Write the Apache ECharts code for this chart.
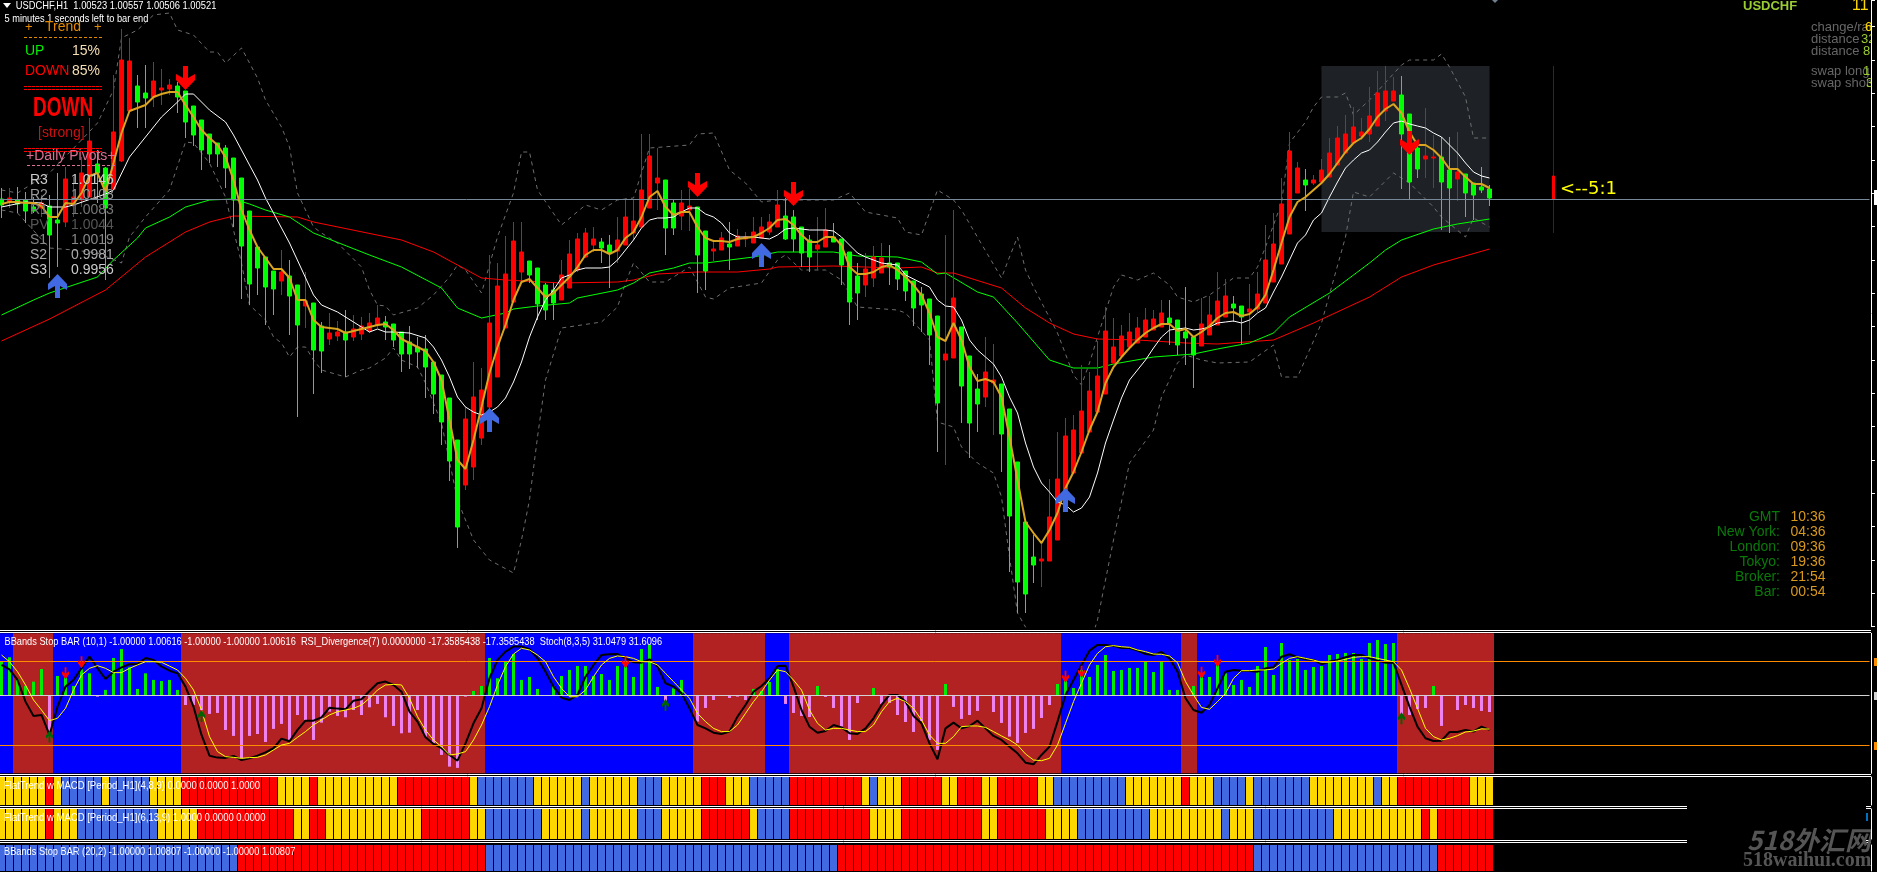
<!DOCTYPE html>
<html><head><meta charset="utf-8"><title>USDCHF,H1</title>
<style>html,body{margin:0;padding:0;background:#000}#c{width:1877px;height:872px}</style>
<script src="https://cdn.jsdelivr.net/npm/echarts@6/dist/echarts.min.js"></script></head>
<body><div id="c"></div>
<script>
// Prices are in points (price x 100000). One entry per H1 bar, oldest first.
const candleOpen=[100522,100516,100520,100520,100506,100504,100508,100480,100476,100510,
100520,100526,100592,100584,100542,100598,100698,100748,100734,100726,
100740,100742,100748,100738,100708,100680,100652,100634,100624,100604,
100564,100498,100426,100406,100378,100358,100368,100350,100308,100314,
100268,100242,100248,100256,100246,100252,100258,100270,100276,100272,
100256,100236,100226,100222,100196,100170,100124,100040,99950,99986,
100044,100106,100166,100264,100316,100376,100398,100384,100350,100340,
100320,100344,100380,100406,100430,100436,100430,100418,100430,100454,
100466,100504,100554,100560,100514,100488,100500,100506,100458,100418,
100420,100432,100428,100442,100434,100444,100456,100466,100488,100486,
100466,100440,100422,100426,100446,100442,100416,100368,100350,100364,
100374,100394,100394,100378,100358,100332,100322,100288,100200,100204,
100266,100208,100142,100126,100154,100152,100102,99996,99876,99806,
99798,99798,99840,99904,99974,100014,100056,100096,100132,100194,
100208,100226,100234,100246,100260,100266,100284,100280,100256,100246,
100228,100250,100270,100286,100312,100308,100296,100302,100314,100356,
100392,100452,100534,100560,100554,100556,100566,100590,100614,100634,
100648,100652,100668,100698,100718,100730,100692,100624,100602,100604,
100606,100580,100562,100572,100554,100546,100542];
const candleClose=[100510,100524,100512,100498,100498,100514,100450,100474,100562,100526,
100574,100638,100574,100504,100656,100800,100798,100716,100724,100758,
100744,100750,100726,100676,100650,100620,100612,100612,100584,100520,
100428,100352,100384,100346,100342,100376,100328,100270,100318,100220,
100218,100254,100256,100240,100262,100268,100274,100284,100266,100240,
100212,100212,100216,100186,100132,100076,99998,99866,100082,100126,
100140,100274,100348,100372,100438,100416,100370,100312,100300,100314,
100370,100412,100442,100454,100442,100424,100414,100440,100486,100478,
100540,100608,100564,100464,100464,100514,100508,100410,100378,100422,
100444,100426,100448,100446,100456,100466,100476,100510,100442,100442,
100414,100406,100430,100460,100436,100390,100316,100334,100382,100406,
100404,100386,100362,100338,100304,100310,100250,100114,100212,100324,
100148,100074,100112,100176,100160,100052,99888,99756,99732,99790,
99802,99886,99962,100048,100060,100098,100138,100168,100258,100226,
100248,100256,100264,100280,100282,100294,100274,100230,100244,100210,
100272,100290,100318,100328,100304,100286,100302,100332,100400,100432,
100512,100618,100584,100550,100560,100580,100614,100644,100652,100666,
100656,100688,100734,100738,100738,100652,100556,100582,100608,100606,
100556,100544,100576,100534,100530,100540,100524];
const candleHigh=[100544,100544,100546,100536,100526,100530,100530,100574,100586,100566,
100606,100684,100620,100586,100770,100862,100844,100770,100790,100796,
100782,100762,100756,100738,100708,100680,100652,100634,100630,100604,
100564,100498,100426,100406,100378,100420,100400,100350,100376,100314,
100276,100294,100278,100300,100290,100286,100294,100310,100288,100272,
100256,100268,100246,100250,100196,100170,100124,100040,100106,100196,
100184,100410,100394,100448,100476,100476,100398,100384,100354,100354,
100400,100440,100454,100464,100466,100444,100450,100486,100524,100522,
100652,100652,100624,100560,100520,100540,100542,100506,100458,100440,
100456,100476,100462,100456,100486,100486,100492,100540,100524,100500,
100466,100450,100486,100504,100474,100442,100416,100394,100414,100428,
100434,100430,100394,100378,100358,100346,100322,100288,100450,100500,
100266,100208,100172,100246,100232,100152,100102,99996,99876,99850,
99836,99962,100056,100084,100090,100190,100176,100238,100306,100284,
100270,100294,100286,100304,100300,100320,100320,100280,100346,100246,
100324,100328,100376,100362,100328,100308,100352,100376,100470,100494,
100564,100656,100596,100582,100570,100602,100644,100668,100690,100706,
100684,100746,100778,100788,100766,100768,100692,100640,100704,100650,
100646,100646,100656,100572,100554,100586,100550];
const candleLow=[100484,100504,100494,100474,100494,100486,100364,100386,100466,100486,
100506,100526,100514,100360,100540,100596,100696,100664,100664,100706,
100710,100730,100694,100644,100628,100580,100594,100586,100544,100466,
100322,100310,100330,100270,100290,100330,100250,100086,100264,100132,
100174,100230,100238,100166,100238,100240,100254,100264,100240,100226,
100176,100182,100184,100124,100092,100030,99958,99824,99940,99960,
100030,100100,100166,100264,100314,100354,100354,100280,100280,100280,
100320,100344,100376,100404,100416,100394,100344,100394,100430,100440,
100466,100504,100500,100410,100450,100460,100458,100334,100340,100396,
100420,100380,100428,100426,100434,100444,100450,100466,100440,100416,
100386,100376,100380,100426,100436,100350,100270,100280,100326,100346,
100374,100350,100340,100318,100268,100256,100190,100016,99990,100204,
100074,100004,100056,100106,100050,99976,99776,99694,99694,99754,
99746,99798,99840,99904,99974,100014,100056,100096,100132,100194,
100208,100226,100234,100246,100260,100266,100230,100210,100190,100144,
100228,100250,100270,100286,100276,100230,100250,100296,100314,100356,
100392,100452,100534,100498,100550,100554,100566,100590,100614,100634,
100640,100636,100668,100678,100718,100542,100522,100564,100564,100544,
100460,100454,100518,100486,100480,100534,100508];
const fastMA=[100512,100516,100516,100514,100514,100508,100486,100486,100514,100512,
100534,100568,100574,100536,100594,100654,100698,100704,100710,100726,
100732,100736,100736,100710,100686,100660,100644,100630,100606,100560,
100500,100460,100426,100404,100382,100382,100364,100320,100320,100280,
100266,100264,100262,100254,100258,100262,100266,100270,100272,100260,
100242,100234,100226,100218,100196,100160,100080,100000,99982,100040,
100106,100174,100226,100270,100320,100356,100362,100344,100326,100334,
100350,100366,100386,100410,100420,100420,100412,100420,100444,100456,
100486,100526,100538,100506,100490,100496,100496,100466,100444,100438,
100438,100436,100442,100444,100446,100454,100464,100480,100482,100470,
100450,100436,100436,100446,100446,100430,100386,100372,100372,100376,
100386,100390,100380,100366,100350,100330,100294,100246,100238,100274,
100240,100186,100158,100162,100156,100126,100046,99960,99876,99854,
99834,99860,99894,99944,99976,100016,100060,100096,100154,100186,
100206,100224,100240,100254,100264,100272,100272,100258,100262,100246,
100256,100268,100284,100294,100296,100288,100292,100306,100330,100380,
100434,100486,100516,100526,100540,100554,100572,100594,100616,100634,
100644,100662,100686,100702,100712,100694,100656,100630,100630,100620,
100604,100582,100582,100566,100552,100552,100544];
// Slower lines and bands: [bar, points]
const whiteMA=[[0,100506],[3,100516],[5,100514],[6,100506],[8,100506],[9,100510],[13,100532],[14,100540],[16,100606],[18,100646],[20,100686],[22,100716],[23,100732],[24,100732],[26,100700],[28,100676],[29,100650],[32,100560],[33,100524],[36,100434],[39,100330],[40,100310],[42,100296],[44,100276],[46,100256],[47,100262],[48,100256],[49,100256],[51,100254],[53,100244],[54,100226],[55,100200],[56,100166],[57,100126],[58,100106],[59,100096],[60,100090],[61,100096],[62,100106],[63,100124],[64,100156],[65,100196],[66,100246],[67,100286],[68,100320],[69,100340],[70,100364],[71,100370],[72,100380],[73,100384],[75,100384],[76,100386],[77,100400],[78,100420],[79,100440],[80,100464],[81,100480],[82,100484],[83,100484],[84,100486],[85,100496],[86,100504],[87,100504],[88,100492],[89,100486],[90,100474],[91,100454],[92,100446],[94,100446],[96,100442],[97,100450],[98,100462],[99,100464],[101,100460],[103,100460],[104,100458],[105,100446],[106,100430],[107,100414],[108,100406],[110,100394],[112,100390],[113,100370],[115,100354],[116,100346],[117,100320],[118,100308],[119,100306],[120,100280],[121,100240],[122,100220],[123,100206],[124,100192],[125,100166],[126,100126],[127,100094],[128,100034],[129,99986],[130,99954],[131,99936],[132,99916],[133,99910],[134,99896],[135,99904],[136,99926],[137,99974],[138,100034],[139,100080],[140,100124],[141,100160],[142,100180],[143,100200],[144,100224],[145,100246],[146,100260],[147,100262],[148,100264],[149,100260],[150,100262],[151,100266],[152,100274],[153,100276],[154,100278],[155,100274],[156,100280],[157,100294],[158,100304],[159,100336],[160,100366],[161,100400],[162,100434],[163,100450],[164,100480],[165,100494],[166,100526],[167,100556],[168,100584],[169,100600],[170,100614],[171,100620],[172,100636],[173,100656],[174,100674],[175,100678],[176,100672],[177,100668],[178,100664],[179,100654],[180,100646],[181,100630],[182,100614],[183,100594],[184,100576],[185,100568],[186,100564]];
const greenMA=[[0,100290],[4,100320],[6,100334],[12,100366],[14,100400],[17,100444],[18,100464],[21,100486],[23,100506],[26,100520],[29,100522],[31,100512],[33,100500],[36,100486],[39,100454],[46,100410],[50,100386],[55,100344],[57,100304],[60,100284],[63,100294],[64,100302],[67,100308],[71,100314],[72,100324],[77,100340],[79,100354],[81,100374],[84,100384],[86,100394],[88,100394],[94,100406],[97,100416],[104,100416],[107,100408],[112,100406],[115,100396],[117,100372],[118,100374],[122,100336],[124,100326],[127,100274],[131,100200],[134,100184],[137,100184],[139,100192],[144,100206],[149,100212],[152,100222],[156,100234],[159,100254],[161,100286],[166,100334],[171,100394],[173,100420],[175,100440],[179,100462],[182,100472],[186,100482]];
const redMA=[[0,100238],[6,100282],[13,100340],[18,100406],[23,100456],[26,100476],[29,100488],[37,100486],[39,100476],[50,100440],[54,100416],[57,100390],[60,100364],[63,100360],[70,100354],[77,100356],[79,100360],[82,100372],[87,100376],[92,100376],[96,100382],[97,100386],[104,100388],[112,100384],[115,100386],[117,100374],[119,100374],[125,100344],[128,100304],[131,100274],[134,100252],[137,100242],[142,100240],[148,100234],[152,100232],[159,100240],[164,100274],[171,100326],[175,100366],[179,100390],[186,100422]];
const bandUpper=[[0,100540],[2,100534],[6,100574],[10,100640],[12,100674],[14,100740],[15,100844],[17,100860],[19,100890],[21,100894],[22,100860],[24,100850],[26,100816],[27,100816],[28,100794],[30,100824],[32,100764],[33,100720],[35,100666],[36,100626],[37,100534],[39,100466],[40,100454],[42,100434],[45,100386],[46,100340],[47,100310],[48,100308],[49,100290],[52,100304],[54,100330],[56,100366],[57,100390],[58,100380],[60,100334],[62,100446],[64,100534],[65,100616],[66,100616],[67,100540],[70,100470],[73,100510],[75,100500],[77,100520],[79,100524],[81,100624],[86,100630],[87,100652],[89,100654],[91,100580],[93,100554],[95,100516],[97,100520],[100,100520],[104,100520],[106,100534],[108,100496],[112,100484],[113,100456],[115,100450],[117,100540],[119,100520],[120,100500],[125,100364],[126,100406],[127,100446],[128,100380],[129,100346],[132,100254],[134,100170],[135,100150],[136,100194],[137,100246],[139,100346],[140,100370],[142,100360],[144,100374],[146,100350],[147,100326],[149,100316],[151,100330],[154,100364],[156,100364],[157,100386],[158,100426],[160,100514],[161,100634],[163,100676],[164,100706],[165,100726],[167,100726],[168,100734],[169,100690],[171,100720],[175,100790],[176,100800],[179,100800],[180,100812],[181,100786],[183,100726],[184,100644],[186,100644]];
const bandLower=[[0,100500],[2,100494],[6,100424],[9,100420],[12,100414],[15,100394],[16,100446],[18,100486],[21,100540],[23,100636],[24,100634],[26,100594],[27,100560],[28,100526],[30,100394],[31,100310],[33,100280],[34,100246],[35,100234],[36,100206],[37,100226],[38,100226],[39,100200],[40,100180],[43,100166],[45,100180],[46,100184],[48,100204],[49,100224],[50,100200],[52,100186],[53,100154],[55,100074],[57,99920],[59,99840],[61,99800],[64,99774],[65,99840],[66,99920],[67,100046],[68,100160],[70,100264],[75,100276],[77,100306],[78,100354],[79,100394],[81,100356],[83,100356],[86,100386],[88,100326],[89,100322],[91,100344],[95,100354],[97,100400],[98,100410],[100,100380],[103,100380],[105,100360],[107,100306],[112,100300],[113,100294],[116,100240],[117,100076],[119,100066],[120,100026],[122,99994],[124,99974],[125,99926],[126,99806],[127,99694],[128,99666],[130,99600],[134,99580],[136,99630],[137,99680],[139,99840],[141,99994],[144,100060],[145,100126],[147,100194],[148,100210],[150,100200],[152,100194],[156,100196],[159,100230],[160,100166],[162,100166],[165,100274],[168,100446],[169,100536],[171,100526],[174,100574],[176,100554],[179,100506],[180,100486],[183,100446],[184,100484],[186,100466]];
const sellArrows=[[23,100764],[87,100550],[99,100532],[176,100634]];
const buyArrows=[[7,100348],[61,100080],[95,100410],[133,99920]];
const lastPrice=100521;
// Risk/reward marker bar: open, close, low, high
const markerBar=[100522,100568,100454,100788];
const markerIndex=194;
// Indicator window
const divergence=[35.0,39.6,16.7,9.7,14.2,27.4,-43.0,20.1,18.7,9.7,27.1,22.9,-1.4,5.6,38.9,48.2,29.1,6.6,22.9,16.0,14.9,16.0,5.6,-10.1,-10.1,-15.3,-19.4,-18.4,-36.1,-42.3,-65.6,-42.3,-40.3,-48.6,-35.0,-29.8,-46.5,-20.5,-25.7,-46.5,-28.5,-17.0,-21.5,-22.9,-15.3,-20.5,-12.5,-9.0,-22.9,-31.9,-39.6,-38.9,-15.3,-43.0,-50.0,-62.1,-74.3,-75.6,-1.4,4.5,9.7,38.9,17.7,35.0,43.0,16.0,19.1,6.6,0,9.7,20.1,26.4,30.5,30.5,20.1,22.2,16.0,30.5,33.3,19.1,48.2,52.4,8.7,-10.1,7.3,16.0,0,-27.4,-13.2,-4.9,0,-2.8,-1.4,-4.9,6.6,4.5,13.9,27.4,-9.0,-18.4,-21.5,-22.6,9.7,-1.7,-13.2,-32.6,-46.5,-8.0,0,7.6,-9.0,-8.0,-20.5,-27.8,-38.2,-26.7,-46.5,-56.9,11.8,-12.1,-24.6,-20.5,-16.3,0,-17.4,-28.8,-43.0,-49.6,-39.2,-35.0,-23.6,-10.1,11.8,16.0,7.6,26.4,19.1,31.6,42.0,25.3,26.4,28.5,28.5,34.7,24.3,34.7,5.6,5.6,0,9.7,20.1,19.1,31.6,22.9,10.8,16.0,8.7,30.5,50.3,21.2,54.5,36.8,37.8,26.4,29.5,30.5,42.0,43.0,44.1,44.1,37.8,54.5,57.6,53.4,54.5,-21.5,-20.5,-14.2,-13.2,9.7,-31.9,0,-15.3,-10.1,-13.2,-16.3,-17.4];
const stochMain=[77.4,74.3,66.7,51.2,41.0,41.7,27.4,47.6,61.9,66.7,75.0,83.3,75.0,67.4,72.6,75.7,77.9,78.1,82.4,81.0,76.2,73.3,71.4,61.9,47.6,27.4,12.6,11.2,11.0,12.4,9.5,10.7,12.6,15.0,17.9,24.8,22.9,31.0,37.6,37.6,40.0,46.9,46.2,45.7,51.9,52.9,58.8,64.3,65.5,63.1,58.3,44.0,36.9,25.7,21.0,17.9,13.1,9.0,21.4,35.7,46.4,67.9,81.0,86.9,90.5,90.5,88.6,82.1,72.6,61.9,54.0,52.4,56.0,69.0,77.4,84.5,85.0,85.2,82.1,79.3,79.0,81.4,76.2,64.3,61.9,57.1,46.4,34.5,32.1,29.0,28.1,29.8,40.5,48.8,58.3,62.4,67.9,76.7,76.9,61.9,45.2,33.3,29.0,30.2,34.5,32.8,28.6,28.1,32.1,39.3,48.8,56.0,56.0,51.2,41.0,35.7,21.4,10.0,32.1,36.2,32.1,33.8,37.6,32.1,26.7,23.8,19.0,14.3,7.6,6.4,13.1,19.0,36.9,56.0,66.7,77.4,87.6,91.7,91.7,91.0,89.5,89.5,87.6,85.2,84.5,86.7,82.1,72.6,53.6,45.2,43.3,48.8,60.7,72.6,73.8,73.3,73.1,72.6,75.0,75.7,83.3,85.0,82.9,81.4,81.0,77.9,79.8,81.0,82.9,84.5,84.5,82.1,80.5,79.0,79.0,63.1,47.6,33.3,25.0,23.1,23.3,29.5,29.5,31.0,29.8,33.3,31.0];
const stochSignal=[84.5,79.7,72.6,63.1,52.4,45.2,37.6,39.3,46.4,59.5,70.2,75.0,76.9,75.0,71.9,71.9,75.0,77.4,79.7,79.7,79.3,76.6,73.8,67.8,59.5,45.2,26.2,15.5,11.9,11.4,10.7,11.2,11.4,13.1,16.7,20.2,21.4,25.7,29.8,34.5,38.1,41.7,44.0,45.2,46.4,48.8,53.6,59.5,63.1,63.5,63.1,53.6,40.5,30.9,23.8,19.0,13.1,13.8,15.5,23.8,34.5,47.6,63.1,76.2,85.2,89.3,88.1,84.5,79.7,69.0,60.7,54.7,54.7,59.5,69.0,77.4,82.1,83.8,83.3,82.1,79.7,79.7,77.4,71.4,65.5,59.5,53.6,42.8,36.9,32.1,29.8,29.8,34.5,42.8,51.2,58.3,66.6,73.8,72.6,66.6,59.5,45.2,35.7,30.9,32.1,32.1,30.9,29.8,29.8,34.5,44.0,51.2,53.6,51.2,46.4,38.1,27.4,21.4,21.4,26.2,33.3,33.8,33.8,32.8,29.8,26.7,23.8,20.2,13.8,9.5,9.0,10.7,20.2,35.7,51.2,64.3,77.4,85.7,90.4,91.2,90.4,90.0,88.1,86.9,85.2,85.0,83.8,79.0,65.5,55.9,47.1,45.7,51.2,57.1,67.8,73.3,73.3,73.8,73.8,74.5,78.5,82.1,83.3,82.1,80.9,79.3,79.3,80.2,81.4,82.8,83.3,83.3,82.1,80.9,79.7,73.8,60.7,46.4,32.1,26.2,23.8,25.0,26.9,29.5,30.2,31.7,31.6];
const stochLevels=[80,20];
const indicatorDown=[[8,71.4],[10,79.3],[78,79.3],[133,69.0],[135,72.6],[150,71.9],[152,80.2]];
const indicatorUp=[[6,26.2],[25,40.9],[83,48.8],[175,39.3]];
// Trend state runs, [state, bars]: B blue, R red, Y gold / F firebrick
const backgroundRuns=[['B',2],['F',5],['B',16],['F',38],['B',26],['F',9],['B',3],['F',34],['B',15],['F',2],['B',25],['F',12]];
const flatTrendA=[['Y',6],['R',1],['Y',1],['B',5],['Y',1],['B',5],['Y',4],['R',12],['Y',4],['R',1],['Y',10],['R',9],['Y',1],['B',7],['Y',6],['B',1],['Y',6],['B',3],['Y',5],['R',3],['Y',3],['B',5],['R',9],['Y',1],['B',1],['Y',3],['R',5],['Y',2],['R',3],['Y',2],['R',5],['Y',2],['B',9],['Y',7],['R',1],['Y',3],['B',4],['Y',1],['B',7],['Y',8],['B',1],['Y',2],['R',9],['Y',3]];
const flatTrendB=[['Y',6],['R',1],['Y',3],['B',10],['Y',5],['R',12],['Y',2],['R',2],['Y',12],['R',6],['Y',2],['B',7],['Y',5],['B',1],['Y',6],['B',3],['Y',5],['R',6],['Y',1],['B',4],['R',10],['Y',4],['R',10],['Y',2],['R',6],['Y',4],['B',9],['Y',9],['B',1],['Y',3],['B',10],['Y',11],['R',1],['Y',1],['R',7]];
const bandsStop=[['B',30],['R',31],['B',44],['R',52],['B',23],['R',7]];
// Texts
const titleMain='USDCHF,H1  1.00523 1.00557 1.00506 1.00521';
const titleTimer='5 minutes 1 seconds left to bar end';
const pivotNames=['R3','R2','R1','PV','S1','S2','S3'];
const pivotValues=['1.0146','1.0108','1.0083','1.0044','1.0019','0.9981','0.9956'];
const clockNames=['GMT','New York:','London:','Tokyo:','Broker:','Bar:'];
const clockTimes=['10:36','04:36','09:36','19:36','21:54','00:54'];
const infoNames=['change/range','distance','distance','swap long','swap short'];
const infoValues=['6','32','8','1.','3'];
const panelTitles=['BBands Stop BAR (10,1) -1.00000 1.00616 -1.00000 -1.00000 1.00616  RSI_Divergence(7) 0.0000000 -17.3585438 -17.3585438  Stoch(8,3,5) 31.0479 31.6096',
'FlatTrend w MACD [Period_H1](4,8,9) 0.0000 0.0000 1.0000','FlatTrend w MACD [Period_H1](6,13,9) 1.0000 0.0000 0.0000','BBands Stop BAR (20,2) -1.00000 1.00807 -1.00000 -1.00000 1.00807'];

const BAR_COUNT=234;
const bars=Array.from({length:BAR_COUNT},(_,i)=>i);
const expand=r=>r.flatMap(([s,n])=>Array(n).fill(s));
const palette={B:'#4169E1',R:'#FF0000',Y:'#FFD700'};
const bgPalette={B:'#0000FF',F:'#B22222'};
const candles=candleOpen.map((o,i)=>[o,candleClose[i],candleLow[i],candleHigh[i]]);
const pad=Array(markerIndex).fill('-');
const arrowDown='path://M7 0H12V12L19 8V14L9.5 24L0 14V8L7 12Z';
const arrowUp='path://M7 24H12V12L19 16V10L9.5 0L0 10V16L7 12Z';
const F='"Liberation Sans",Arial,sans-serif';

const grids=[{top:633.3,height:140},{top:777,height:28},{top:809,height:30},{top:845,height:26}];
const gridOpt=[{left:-2.5,width:1872,top:0,height:626.67,outerBoundsMode:'none'}].concat(grids.map(g=>({left:-2.5,width:1872,top:g.top,height:g.height,outerBoundsMode:'none'})));
const xAxis=gridOpt.map((_,i)=>({type:'category',gridIndex:i,data:bars,show:false,boundaryGap:true}));
xAxis.push({type:'category',gridIndex:1,data:bars,show:false},{type:'category',gridIndex:1,data:bars,show:false});
const edge=(extra)=>Object.assign({position:'right',offset:1.5,z:60,axisLabel:{show:false},splitLine:{show:false},axisTick:{show:false},axisLine:{show:true,onZero:false,lineStyle:{color:'#fff',width:1}}},extra);
const yAxis=[
 edge({type:'value',gridIndex:0,min:1495*200/3,max:100920,interval:200/3,axisTick:{show:true,length:4,lineStyle:{color:'#fff'}}}),
 edge({type:'value',gridIndex:1,min:0,max:100}),
 {type:'value',gridIndex:1,min:-81.25,max:64.58,show:false,splitLine:{show:false}},
 edge({type:'value',gridIndex:2,min:0,max:1}),
 edge({type:'value',gridIndex:3,min:0,max:1}),
 edge({type:'value',gridIndex:4,min:0,max:1})
];
const line=(name,data,color,width,z,dash)=>({type:'line',name,data,xAxisIndex:0,yAxisIndex:0,symbol:'none',silent:true,z,lineStyle:{color,width,type:dash||'solid'},smooth:false,animation:false});
const rowBars=(runs,i)=>({type:'bar',xAxisIndex:i,yAxisIndex:i+1,barWidth:7,silent:true,animation:false,data:expand(runs).map(s=>({value:1,itemStyle:{color:palette[s]}}))});
const series=[
 {type:'line',data:[],xAxisIndex:0,yAxisIndex:0,z:1,silent:true,
  markArea:{silent:true,itemStyle:{color:'#1E2226'},data:[[{xAxis:165,yAxis:100788},{xAxis:186,yAxis:100456}]]},
  markLine:{silent:true,symbol:'none',label:{show:false},lineStyle:{color:'#778899',width:1,type:'solid'},data:[{yAxis:lastPrice}]}},
 line('upper',bandUpper,'#6E6E6E',1,2,[4,4]),
 line('lower',bandLower,'#6E6E6E',1,2,[4,4]),
 line('red',redMA,'#FF0000',1,2),
 line('green',greenMA,'#00FF00',1,2),
 {type:'candlestick',data:candles,xAxisIndex:0,yAxisIndex:0,barWidth:5,z:3,silent:true,animation:false,
  itemStyle:{color:'#FF0000',color0:'#00FF00',borderColor:'#FF0000',borderColor0:'#00FF00',borderWidth:1}},
 {type:'candlestick',data:pad.concat([[markerBar[0],markerBar[0],markerBar[2],markerBar[3]]]),xAxisIndex:0,yAxisIndex:0,barWidth:1,z:3,silent:true,animation:false,
  itemStyle:{color:'#8B0000',color0:'#8B0000',borderColor:'#8B0000',borderColor0:'#8B0000',borderWidth:1}},
 {type:'candlestick',data:pad.concat([[markerBar[0],markerBar[1],markerBar[0],markerBar[1]]]),xAxisIndex:0,yAxisIndex:0,barWidth:3,z:3,silent:true,animation:false,
  itemStyle:{color:'#FF0000',color0:'#FF0000',borderColor:'#FF0000',borderColor0:'#FF0000',borderWidth:1}},
 line('white',whiteMA,'#FFFFFF',1,4),
 line('fast',fastMA.map((v,i)=>[i,v]),'#DAA520',2,5),
 {type:'scatter',data:sellArrows,xAxisIndex:0,yAxisIndex:0,symbol:arrowDown,symbolSize:[19,24],z:6,silent:true,itemStyle:{color:'#FF0000',opacity:1},animation:false},
 {type:'scatter',data:buyArrows,xAxisIndex:0,yAxisIndex:0,symbol:arrowUp,symbolSize:[19,24],z:6,silent:true,itemStyle:{color:'#4169E1',opacity:1},animation:false},
 // indicator window
 {type:'bar',xAxisIndex:5,yAxisIndex:1,barWidth:9,z:1,silent:true,animation:false,data:expand(backgroundRuns).map(s=>({value:100,itemStyle:{color:bgPalette[s]}}))},
 {type:'bar',xAxisIndex:6,yAxisIndex:2,barWidth:3,z:2,silent:true,animation:false,data:divergence.map(v=>({value:v,itemStyle:{color:v>=0?'#00EE00':'#EE82EE'}}))},
 {type:'line',data:[],xAxisIndex:1,yAxisIndex:2,z:3,silent:true,markLine:{silent:true,symbol:'none',label:{show:false},lineStyle:{color:'#D3D3D3',width:1,type:'solid'},data:[{yAxis:0}]}},
 {type:'line',data:[],xAxisIndex:1,yAxisIndex:1,z:3,silent:true,markLine:{silent:true,symbol:'none',label:{show:false},lineStyle:{color:'#FF8C00',width:1,type:'solid'},data:stochLevels.map(v=>({yAxis:v}))}},
 {type:'line',data:stochMain,xAxisIndex:1,yAxisIndex:1,z:4,symbol:'none',silent:true,animation:false,lineStyle:{color:'#000',width:2}},
 {type:'line',data:stochSignal,xAxisIndex:1,yAxisIndex:1,z:5,symbol:'none',silent:true,animation:false,lineStyle:{color:'#FFFF00',width:1}},
 {type:'scatter',data:indicatorDown,xAxisIndex:1,yAxisIndex:1,symbol:arrowDown,symbolSize:[7,12],z:6,silent:true,itemStyle:{color:'#FF0000',opacity:1},animation:false},
 {type:'scatter',data:indicatorUp,xAxisIndex:1,yAxisIndex:1,symbol:arrowUp,symbolSize:[7,12],z:6,silent:true,itemStyle:{color:'#006400',opacity:1},animation:false},
 rowBars(flatTrendA,2),rowBars(flatTrendB,3),rowBars(bandsStop,4)
];
const T=(text,x,y,fill,font,o)=>Object.assign({type:'text',silent:true,z:50,x,y,style:{text,x:0,y:0,fill,font:font||('11px '+F),verticalAlign:'middle',textVerticalAlign:'middle',align:'left',textAlign:'left'}},o||{});
const R=(t,x,y,fill,font)=>{const e=T(t,x,y,fill,font);e.style.align='right';e.style.textAlign='right';return e;};
const L=(x1,y1,x2,y2,stroke,dash)=>({type:'line',silent:true,z:49,shape:{x1,y1,x2,y2},style:{stroke,lineWidth:1,lineDash:dash||null}});
const Rect=(x,y,w,h,fill,z)=>({type:'rect',silent:true,z:z||49,shape:{x,y,width:w,height:h},style:{fill}});
const g=[];
[[630.5,1871],[632.5,1871],[774.5,1871],[776.5,1871],[806.5,1687],[808.5,1687],[840.5,1687],[842.5,1687]].forEach(([y,x])=>g.push(L(0,y,x,y,'#fff')));
[806.5,808.5,840.5,842.5].forEach(y=>g.push(L(1866,y,1871,y,'#fff')));
g.push({type:'polygon',silent:true,z:50,shape:{points:[[3,3],[11,3],[7,8]]},style:{fill:'#fff'}});
g.push(T(titleMain,15.7,6,'#fff',null,{scaleX:0.85}),T(titleTimer,4.5,18.5,'#fff',null,{scaleX:0.84}));
const orange='#E58A00',wheat='#F5DEB3';
g.push(T('+',25,27,orange,'13px '+F),T('Trend',45,27,orange,'14px '+F),T('+',94,27,orange,'13px '+F),L(24,37.5,102,37.5,orange,[3,2]));
g.push(T('UP',25,51,'#00EE00','14px '+F),T('15%',72,51,wheat,'14px '+F),T('DOWN',25,71,'#FF0000','14px '+F),T('85%',72,71,wheat,'14px '+F));
[86.5,89.5,148.5,151.5].forEach(y=>g.push(L(24,y,102,y,'#FF0000',[3,1])));
g.push(T('DOWN',33,108,'#FF0000','bold 19px '+F,{scaleY:1.45}));
g.push(T('[strong]',38,133,'#D01010','14px '+F),T('+Daily Pivots+',26,156,'#DB7093','14px '+F),L(27,165.5,115,165.5,'#DB7093',[3,2]));
const pivotShades=['#CCCCCC','#999999','#777777','#555555','#888888','#AAAAAA','#CCCCCC'];
pivotNames.forEach((n,i)=>{const y=180.5+15*i;g.push(T(n,30,y,pivotShades[i],'14px '+F),T(pivotValues[i],71,y,pivotShades[i],'14px '+F));});
g.push(T('USDCHF',1743,6,'#9ACD32','bold 13px '+F),T('11',1852,6,'#FFD700','16px '+F));
[27,39,51,71,83].forEach((y,i)=>{g.push(T(infoNames[i],1811,y,'#666666','13px '+F));});
const infoX=[1865,1861,1863,1863,1866],infoC=['#FFD700','#9ACD32','#9ACD32','#9ACD32','#9ACD32'];
[27,39,51,71,83].forEach((y,i)=>g.push(T(infoValues[i],infoX[i],y,infoC[i],'13px '+F)));
g.push(Rect(1871.5,0,6,872,'#000',51));
clockNames.forEach((n,i)=>{const y=517+15*i;g.push(R(n,1780,y,'#0A7A0A','14px '+F),T(clockTimes[i],1790.5,y,'#D8991D','14px '+F));});
g.push(T('<--5:1',1560,189.5,'#FFFF00','18px "DejaVu Sans"'));
g.push(T(panelTitles[0],4.5,641.7,'#fff',null,{scaleX:0.84}),T(panelTitles[1],4,785.7,'#fff',null,{scaleX:0.865}),T(panelTitles[2],4,817.7,'#fff',null,{scaleX:0.865}),T(panelTitles[3],4,851.7,'#fff',null,{scaleX:0.84}));
g.push(T('518外汇网',1747,840,'#555555','italic bold 26px "Noto Sans CJK SC"'),T('518waihui.com',1743,861,'#555555','bold 20px "Liberation Serif"'));
g.push(Rect(1866,813,2,8,'#0070C0'),{type:'polygon',silent:true,z:50,shape:{points:[[1492,0],[1498,0],[1495,3]]},style:{fill:'#708090'}});
g.push(Rect(1874,190,3,15,'#fff',61),Rect(1874,658,3,8,'#FF8C00',61),Rect(1874,692,3,8,'#D3D3D3',61),Rect(1874,742,3,8,'#FF8C00',61));

const chart=echarts.init(document.getElementById('c'),null,{renderer:'canvas'});
chart.setOption({animation:false,backgroundColor:'#000',tooltip:{show:false},legend:{show:false},grid:gridOpt,xAxis,yAxis,series,graphic:{elements:g}});
</script></body></html>
